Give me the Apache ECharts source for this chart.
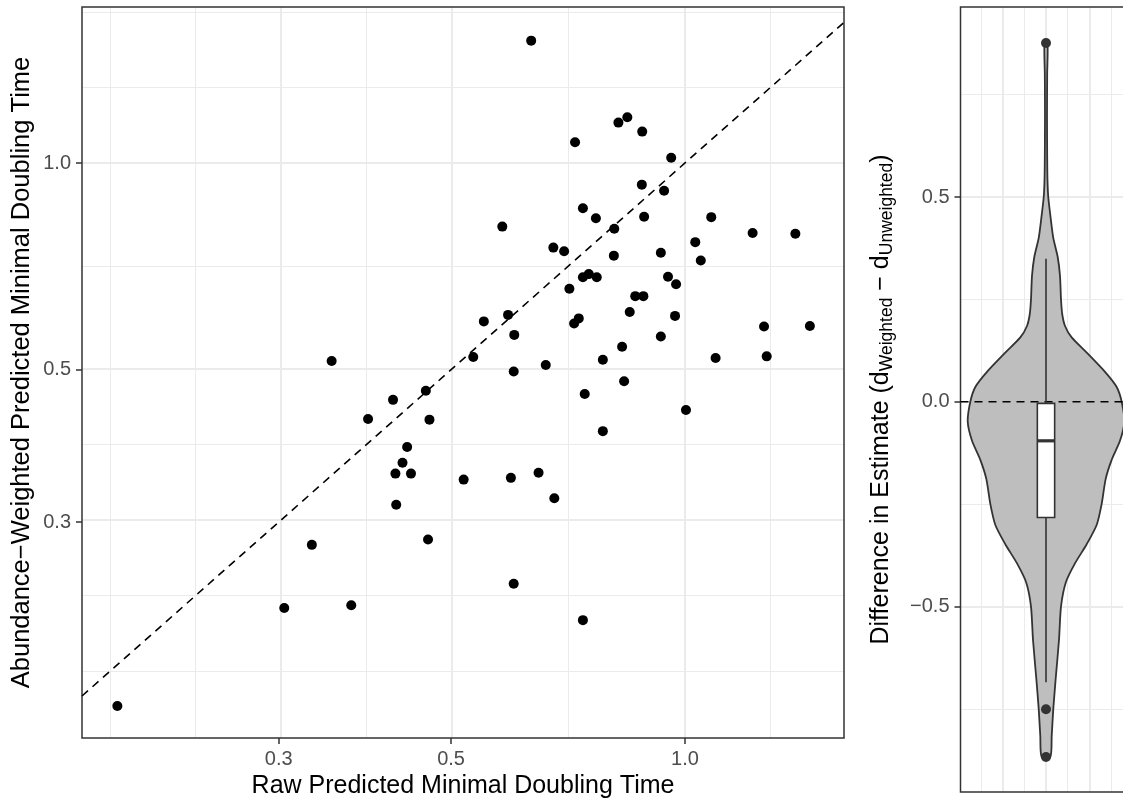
<!DOCTYPE html>
<html>
<head>
<meta charset="utf-8">
<script src="https://cdn.jsdelivr.net/npm/echarts@6/dist/echarts.min.js"></script>
<style>
html, body { margin: 0; padding: 0; background: #fff; }
#main { width: 1123px; height: 802px; }
</style>
</head>
<body>
<div id="main"></div>
<script>
// raw vs abundance-weighted predicted minimal doubling time, one point per sample
var rawTime = [0.634, 0.821, 0.843, 0.881, 0.722, 0.960, 0.880, 0.940, 0.739, 0.768,
  0.886, 0.582, 0.811, 1.081, 1.222, 1.387, 1.031, 1.048, 0.677, 0.699,
  0.810, 0.931, 0.739, 0.752, 0.770, 0.951, 0.974, 0.710, 0.863, 0.884,
  0.849, 0.971, 0.551, 0.592, 0.603, 0.720, 0.730, 0.931, 1.264, 1.448,
  0.534, 0.602, 0.662, 0.784, 0.830, 1.095, 1.274, 0.835, 0.351, 0.743,
  1.003, 0.784, 0.519, 0.597, 0.648, 0.679, 0.602, 0.739, 0.464, 0.421,
  0.391, 0.469, 0.439, 0.433, 0.424, 0.444, 0.425, 0.467, 0.331, 0.305,
  0.372, 0.186];
var weightedTime = [1.507, 1.145, 1.166, 1.111, 1.072, 1.018, 0.930, 0.911, 0.859, 0.831,
  0.835, 0.808, 0.802, 0.834, 0.791, 0.789, 0.767, 0.721, 0.753, 0.744,
  0.733, 0.740, 0.682, 0.689, 0.682, 0.683, 0.666, 0.656, 0.640, 0.640,
  0.607, 0.599, 0.588, 0.601, 0.562, 0.584, 0.594, 0.559, 0.578, 0.579,
  0.522, 0.497, 0.508, 0.517, 0.540, 0.520, 0.523, 0.481, 0.515, 0.461,
  0.437, 0.407, 0.346, 0.348, 0.354, 0.325, 0.244, 0.216, 0.466, 0.452,
  0.424, 0.423, 0.386, 0.366, 0.353, 0.353, 0.318, 0.283, 0.278, 0.225,
  0.227, 0.162];

var timeTicks = [0.3, 0.5, 1.0];
var rawLimits = [0.1675, 1.602];
var weightedLimits = [0.1455, 1.687];

// difference in estimate (weighted - unweighted): violin outline
var violinValues = [0.876, 0.80, 0.70, 0.60, 0.541, 0.50, 0.448, 0.40, 0.354, 0.307,
  0.249, 0.213, 0.185, 0.157, 0.12, 0.073, 0.036, 0.0, -0.049, -0.0955,
  -0.142, -0.189, -0.25, -0.301, -0.348, -0.395, -0.442, -0.5, -0.582, -0.676,
  -0.751, -0.816, -0.868];
var violinDensity = [0.019, 0.015, 0.013, 0.015, 0.019, 0.029, 0.060, 0.093, 0.149, 0.179,
  0.192, 0.208, 0.243, 0.328, 0.520, 0.754, 0.903, 0.967, 1.0, 0.945,
  0.839, 0.762, 0.711, 0.647, 0.520, 0.370, 0.252, 0.192, 0.166, 0.124,
  0.093, 0.073, 0.055];
// lower whisker, Q1, median, Q3, upper whisker
var boxStats = [-0.685, -0.283, -0.0955, -0.004, 0.349];
var boxOutliers = [0.876, -0.751, -0.868];
var diffTicks = [-0.5, 0, 0.5];
var diffLimits = [-0.9533, 0.9641];

var FONT = 'Liberation Sans, Arial, Helvetica, sans-serif';
var log10 = function (v) { return Math.log(v) / Math.LN10; };

// ggplot-style minor breaks: midpoints, extended one step past the outer majors
function minorBreaks(major, lo, hi) {
  var b = major.slice();
  var d = b[1] - b[0];
  if (lo < b[0]) b.unshift(b[0] - d);
  if (hi > b[b.length - 1]) b.push(b[b.length - 1] + d);
  var out = [];
  for (var i = 0; i < b.length - 1; i++) {
    out.push(b[i], (b[i] + b[i + 1]) / 2);
  }
  out.push(b[b.length - 1]);
  return out.filter(function (v) { return v >= lo && v <= hi && major.indexOf(v) < 0; });
}

function gridLines(key, major, minor) {
  var res = [];
  minor.forEach(function (v) { var o = { lineStyle: { width: 1 } }; o[key] = v; res.push(o); });
  major.forEach(function (v) { var o = { lineStyle: { width: 2 } }; o[key] = v; res.push(o); });
  return res;
}

var logTicks = timeTicks.map(log10);
var xLim = rawLimits.map(log10);
var yLim = weightedLimits.map(log10);
var pts = rawTime.map(function (x, i) { return [log10(x), log10(weightedTime[i])]; });

// violin panel x axis is a bare position scale (no labels); panel runs past the right edge
var vxLim = [-1.975, 3.8];
var vxMajor = [-1, 0, 1, 2, 3];
var vxMinor = [-1.5, -0.5, 0.5, 1.5, 2.5, 3.5];
var violinHalf = 1.808;
var boxHalf = 0.2;

var tickLabel = { fontSize: 20, color: '#4d4d4d', fontFamily: FONT, margin: 11 };
var tickStyle = { show: true, length: 6, lineStyle: { color: '#333333', width: 1.5 } };
var hiddenLine = { show: false, onZero: false };
var gridMark = {
  silent: true, symbol: ['none', 'none'], animation: false, z: 0,
  label: { show: false },
  lineStyle: { color: '#ebebeb', type: 'solid' }
};
var panel = {
  outerBoundsMode: 'none', containLabel: false, z: 1,
  show: true, borderColor: '#333333', borderWidth: 1.5, backgroundColor: 'transparent'
};

var myChart = echarts.init(document.getElementById('main'), null, { renderer: 'canvas' });

var option = {
  animation: false,
  backgroundColor: '#ffffff',
  grid: [
    Object.assign({ left: 82, top: 7, width: 762, height: 731 }, panel),
    Object.assign({ left: 960.5, top: 7, width: 250, height: 785 }, panel)
  ],
  xAxis: [
    {
      type: 'value', gridIndex: 0, min: xLim[0], max: xLim[1],
      axisLine: hiddenLine, splitLine: { show: false },
      axisTick: Object.assign({ customValues: logTicks }, tickStyle),
      axisLabel: Object.assign({ customValues: logTicks, formatter: function (v) { return Math.pow(10, v).toFixed(1); } }, tickLabel),
      name: 'Raw Predicted Minimal Doubling Time', nameLocation: 'middle', nameGap: 36, nameMoveOverlap: false,
      nameTextStyle: { fontSize: 25, color: '#000000', fontFamily: FONT }
    },
    {
      type: 'value', gridIndex: 1, min: vxLim[0], max: vxLim[1],
      axisLine: hiddenLine, splitLine: { show: false },
      axisTick: { show: false }, axisLabel: { show: false }
    }
  ],
  yAxis: [
    {
      type: 'value', gridIndex: 0, min: yLim[0], max: yLim[1],
      axisLine: hiddenLine, splitLine: { show: false },
      axisTick: Object.assign({ customValues: logTicks }, tickStyle),
      axisLabel: Object.assign({ customValues: logTicks, formatter: function (v) { return Math.pow(10, v).toFixed(1); } }, tickLabel),
      name: 'Abundance\u2212Weighted Predicted Minimal Doubling Time', nameLocation: 'middle', nameGap: 47, nameMoveOverlap: false,
      nameTextStyle: { fontSize: 25.5, color: '#000000', fontFamily: FONT }
    },
    {
      type: 'value', gridIndex: 1, min: diffLimits[0], max: diffLimits[1],
      axisLine: hiddenLine, splitLine: { show: false },
      axisTick: Object.assign({ customValues: diffTicks }, tickStyle),
      axisLabel: Object.assign({ customValues: diffTicks, formatter: function (v) { return v.toFixed(1).replace('-', '\u2212'); } }, tickLabel),
      name: 'Difference in Estimate (d{sub|Weighted} \u2212 d{sub|Unweighted})',
      nameLocation: 'middle', nameGap: 64, nameMoveOverlap: false,
      nameTextStyle: {
        fontSize: 25, color: '#000000', fontFamily: FONT, lineHeight: 31,
        rich: { sub: { fontSize: 17.5, color: '#000000', fontFamily: FONT, verticalAlign: 'bottom' } }
      }
    }
  ],
  series: [
    // panel 1 grid lines
    {
      type: 'line', xAxisIndex: 0, yAxisIndex: 0, data: [[xLim[0], yLim[0]]],
      symbol: 'none', lineStyle: { opacity: 0 }, z: 0, silent: true,
      markLine: Object.assign({
        data: gridLines('xAxis', logTicks, minorBreaks(logTicks, xLim[0], xLim[1]))
          .concat(gridLines('yAxis', logTicks, minorBreaks(logTicks, yLim[0], yLim[1])))
      }, gridMark)
    },
    // panel 2 grid lines
    {
      type: 'line', xAxisIndex: 1, yAxisIndex: 1, data: [[vxLim[0], diffLimits[0]]],
      symbol: 'none', lineStyle: { opacity: 0 }, z: 0, silent: true,
      markLine: Object.assign({
        data: gridLines('xAxis', vxMajor, vxMinor)
          .concat(gridLines('yAxis', diffTicks, minorBreaks(diffTicks, diffLimits[0], diffLimits[1])))
      }, gridMark)
    },
    // y = x reference
    {
      type: 'line', xAxisIndex: 0, yAxisIndex: 0,
      data: [[xLim[0], xLim[0]], [xLim[1], xLim[1]]],
      symbol: 'none', z: 4, silent: true,
      lineStyle: { color: '#000000', width: 1.6, type: [8, 6] }
    },
    {
      type: 'scatter', xAxisIndex: 0, yAxisIndex: 0, data: pts,
      symbol: 'circle', symbolSize: 10, z: 5,
      itemStyle: { color: '#000000', opacity: 1 }
    },
    // violin
    {
      type: 'custom', xAxisIndex: 1, yAxisIndex: 1, data: [[0, 0]], z: 2, silent: true,
      renderItem: function (params, api) {
        var left = [], right = [];
        for (var i = 0; i < violinValues.length; i++) {
          var w = violinDensity[i] * violinHalf;
          left.push(api.coord([-w, violinValues[i]]));
          right.unshift(api.coord([w, violinValues[i]]));
        }
        return {
          type: 'polygon',
          shape: { points: left.concat(right), smooth: 0.25 },
          style: { fill: '#bebebe', stroke: '#333333', lineWidth: 1.8 }
        };
      }
    },
    // zero line
    {
      type: 'line', xAxisIndex: 1, yAxisIndex: 1,
      data: [[vxLim[0], 0], [vxLim[1], 0]],
      symbol: 'none', z: 3, silent: true,
      lineStyle: { color: '#000000', width: 1.6, type: [8, 6] }
    },
    // box and whiskers
    {
      type: 'custom', xAxisIndex: 1, yAxisIndex: 1, data: [[0, 0]], z: 4, silent: true,
      renderItem: function (params, api) {
        var lw = api.coord([0, boxStats[0]]), q1 = api.coord([-boxHalf, boxStats[1]]);
        var md = api.coord([-boxHalf, boxStats[2]]), q3 = api.coord([boxHalf, boxStats[3]]);
        var uw = api.coord([0, boxStats[4]]), c = api.coord([0, 0]);
        var st = { stroke: '#333333', lineWidth: 1.6 };
        return {
          type: 'group',
          children: [
            { type: 'line', shape: { x1: c[0], y1: q3[1], x2: uw[0], y2: uw[1] }, style: st },
            { type: 'line', shape: { x1: c[0], y1: q1[1], x2: lw[0], y2: lw[1] }, style: st },
            { type: 'rect', shape: { x: q1[0], y: q3[1], width: q3[0] - q1[0], height: q1[1] - q3[1] },
              style: { fill: '#ffffff', stroke: '#333333', lineWidth: 1.6 } },
            { type: 'line', shape: { x1: q1[0], y1: md[1], x2: q3[0], y2: md[1] },
              style: { stroke: '#333333', lineWidth: 3.2 } }
          ]
        };
      }
    },
    {
      type: 'scatter', xAxisIndex: 1, yAxisIndex: 1,
      data: boxOutliers.map(function (v) { return [0, v]; }),
      symbol: 'circle', symbolSize: 10, z: 5,
      itemStyle: { color: '#333333', opacity: 1 }
    }
  ]
};

if (option && typeof option === 'object') {
  myChart.setOption(option, true);
}

window.addEventListener('resize', function () {
  myChart.resize();
});
</script>
</body>
</html>
